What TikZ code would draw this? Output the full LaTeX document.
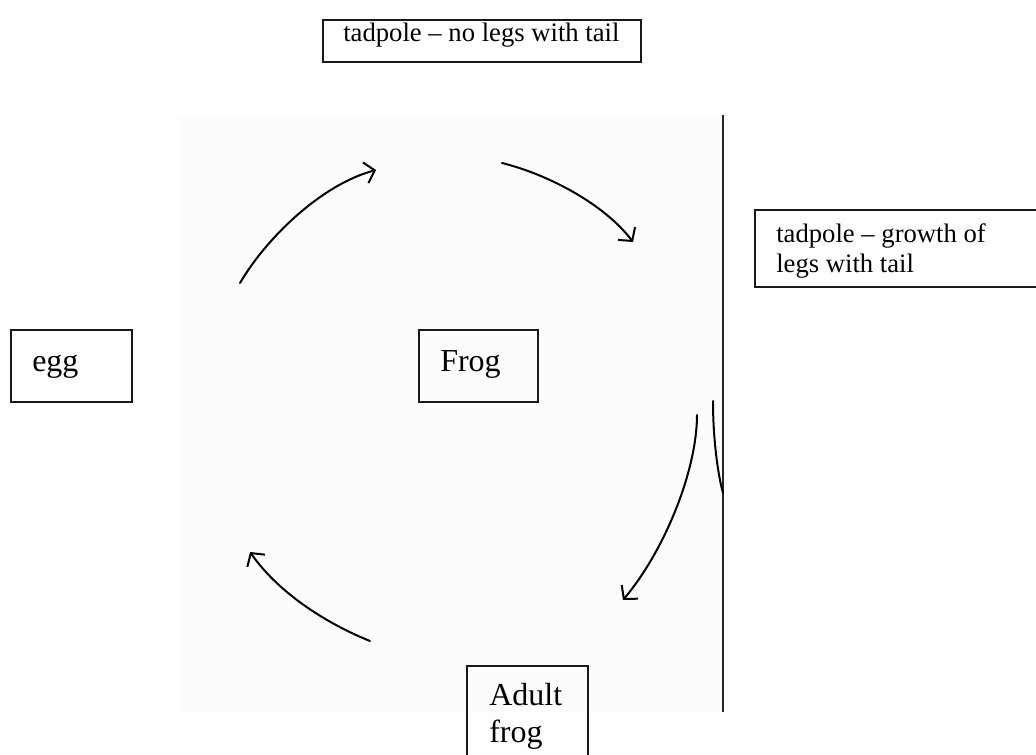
\documentclass[tikz,border=0pt]{standalone}
\usepackage{fontspec}
\setmainfont{Liberation Serif}
\usepackage{tikz}
\usetikzlibrary{arrows.meta}

\newcommand{\smalltxt}{\fontsize{20}{22.5}\selectfont}
\newcommand{\bigtxt}{\fontsize{24}{27.75}\selectfont}

\begin{document}
\begin{tikzpicture}[x=0.75pt, y=-0.75pt,
    box/.style={line width=1.5pt, draw=black!90},
    txt/.style={anchor=base west, inner sep=0pt, align=left},
    cycarrow/.style={line width=1.5pt, line cap=round,
      -{Straight Barb[length=7pt, width=16pt, line width=1.5pt]}}]
        \useasboundingbox (0,0) rectangle (1036,755);
        \clip (0,0) rectangle (1036,755);
        % faint scanned area and the rule on its right
        \fill[black!1] (178,115) rectangle (723,712);
        \draw[line width=1pt, black!85] (723,115) -- (723,712);
        % boxes
        \draw[box] (323,20) rectangle (641,62);
        \draw[box] (755,210) rectangle (1045,287);
        \draw[box] (11,330) rectangle (132,402);
        \draw[box] (419,330) rectangle (538,402);
        \draw[box] (467,666) rectangle (588,770);
        % texts (base = last line)
        \node[txt, font=\smalltxt] (nolegs) at (343,42) {tadpole -- no legs with tail};
        \node[txt, font=\smalltxt] (growth) at (776,273) {tadpole -- growth of\\ legs with tail};
        \node[txt, font=\bigtxt] (egg) at (32,372) {egg};
        \node[txt, font=\bigtxt] (frog) at (440,372) {Frog};
        \node[txt, font=\bigtxt] (adult) at (489,742) {Adult\\ frog};
        % hand drawn arrows round the cycle
        \coordinate (eggout) at (240,283);
        \coordinate (nolegsin) at (376,170);
        \coordinate (nolegsout) at (502,163);
        \coordinate (growthin) at (633,242);
        \coordinate (growthout) at (697,415);
        \coordinate (adultin) at (623,600);
        \coordinate (adultout) at (370,641);
        \coordinate (eggin) at (250,552);
        \draw[cycarrow] (eggout) .. controls (265,240) and (320,185) .. (nolegsin);
        \draw[cycarrow] (nolegsout) .. controls (550,175) and (605,205) .. (growthin);
        \draw[cycarrow] (growthout) .. controls (697,470) and (665,550) .. (adultin);
        \draw[cycarrow] (adultout) .. controls (330,625) and (280,595) .. (eggin);
        \draw[line width=1.5pt, line cap=round] (713,401) .. controls (713,440) and (718,475) .. (723,493);
      \end{tikzpicture}
\end{document}
